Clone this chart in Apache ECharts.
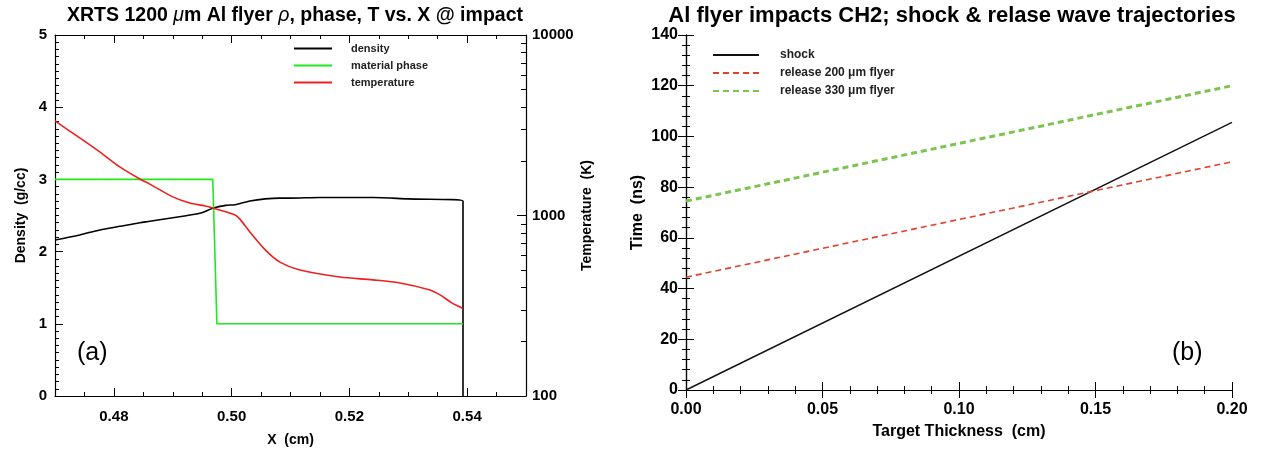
<!DOCTYPE html>
<html><head><meta charset="utf-8">
<script src="https://cdn.jsdelivr.net/npm/echarts@6/dist/echarts.min.js"></script>
<style>html,body{margin:0;padding:0;background:#fff}#c{width:1261px;height:454px}</style>
</head><body><div id="c"></div>
<script>
// ---- Panel (a) data ----
const densX = [0.47, 0.4742, 0.4776, 0.4810, 0.4844, 0.4861, 0.4917, 0.4946, 0.4968, 0.4990, 0.5006, 0.5031, 0.5057, 0.5082, 0.5099, 0.5150, 0.5201, 0.5240, 0.5300, 0.5393, 0.5393];
const densY = [2.16, 2.23, 2.30, 2.35, 2.40, 2.42, 2.49, 2.53, 2.60, 2.64, 2.65, 2.70, 2.73, 2.74, 2.74, 2.75, 2.75, 2.75, 2.73, 2.70, 0.0];
const phaseX = [0.47, 0.4968, 0.4975, 0.5393];
const phaseY = [3, 3, 1, 1];
const tempX = [0.47, 0.4742, 0.4776, 0.4810, 0.4844, 0.4861, 0.4900, 0.4929, 0.4955, 0.4968, 0.5006, 0.5014, 0.5031, 0.5057, 0.5082, 0.5116, 0.5184, 0.5240, 0.5286, 0.5337, 0.5354, 0.5374, 0.5388, 0.5393];
const tempY = [3340, 2690, 2250, 1858, 1593, 1493, 1268, 1172, 1130, 1101, 1007, 955, 811, 645, 552, 499, 456, 440, 423, 387, 363, 328, 311, 305];
const xTicksA = [0.48, 0.50, 0.52, 0.54];
const tempMinorTicks = [200, 300, 400, 500, 600, 700, 800, 900, 2000, 3000, 4000, 5000, 6000, 7000, 8000, 9000];
// ---- Panel (b) data ----
const thick = [0.0, 0.2];
const shock = [0.0, 105.5];
const rel200 = [44.5, 90.0];
const rel330 = [74.5, 120.0];

const zip = (xs, ys) => xs.map((x, i) => [x, ys[i]]);
const F = 'Liberation Sans, Arial, Helvetica, sans-serif';
const lblA = {fontFamily: F, fontWeight: 'bold', fontSize: 15, color: '#000'};
const lblB = {fontFamily: F, fontWeight: 'bold', fontSize: 16, color: '#000'};
const nmA = {fontFamily: F, fontWeight: 'bold', fontSize: 14, color: '#000'};
const nmB = {fontFamily: F, fontWeight: 'bold', fontSize: 16, color: '#000'};
const line = {show: true, lineStyle: {color: '#000', width: 1.2}};

const chart = echarts.init(document.getElementById('c'), null, {renderer: 'canvas'});
chart.setOption({
  animation: false,
  backgroundColor: '#fff',
  title: [
    {text: 'XRTS 1200 {i|μ}m Al flyer {i|ρ}, phase, T vs. X @ impact', left: 290, textAlign: 'center', top: 1,
     textStyle: {fontFamily: F, fontWeight: 'bold', fontSize: 19.5, color: '#000',
       rich: {i: {fontFamily: F, fontStyle: 'italic', fontWeight: 'normal', fontSize: 19.5, color: '#000'}}}},
    {text: 'Al flyer impacts CH2; shock & relase wave trajectories', left: 947, textAlign: 'center', top: 0,
     textStyle: {fontFamily: F, fontWeight: 'bold', fontSize: 22, color: '#000'}}
  ],
  legend: [
    {orient: 'vertical', left: 288, top: 38, itemWidth: 38, itemHeight: 10, itemGap: 6,
     itemStyle: {opacity: 0},
     data: ['density', 'material phase', 'temperature'],
     textStyle: {fontFamily: F, fontSize: 11, fontWeight: 'bold', color: '#222', padding: [0, 0, 0, 14]}},
    {orient: 'vertical', left: 707, top: 44, itemWidth: 46, itemHeight: 10, itemGap: 6,
     itemStyle: {opacity: 0},
     data: ['shock', 'release 200 μm flyer', 'release 330 μm flyer'],
     textStyle: {fontFamily: F, fontSize: 12, fontWeight: 'bold', color: '#222', padding: [0, 0, 0, 16]}}
  ],
  grid: [
    {left: 55, right: 735, top: 35, bottom: 58},
    {left: 686, right: 29, top: 35, bottom: 64}
  ],
  xAxis: [
    {gridIndex: 0, type: 'value', position: 'bottom', min: 0.47, max: 0.55,
     axisLine: line, splitLine: {show: false},
     axisTick: {show: true, inside: true, length: 8, customValues: xTicksA, lineStyle: {color: '#000'}},
     axisLabel: {customValues: xTicksA, margin: 13, formatter: v => v.toFixed(2), ...lblA},
     name: 'X  (cm)', nameLocation: 'middle', nameGap: 37, nameTextStyle: nmA},
    {gridIndex: 0, type: 'value', position: 'bottom', min: 0.47, max: 0.55, interval: 0.005,
     axisLine: {show: false}, splitLine: {show: false}, axisLabel: {show: false},
     axisTick: {show: true, inside: true, length: 4, lineStyle: {color: '#000'}}},
    {gridIndex: 0, type: 'value', position: 'top', min: 0.47, max: 0.55,
     axisLine: line, splitLine: {show: false}, axisLabel: {show: false},
     axisTick: {show: true, inside: true, length: 8, customValues: xTicksA, lineStyle: {color: '#000'}}},
    {gridIndex: 0, type: 'value', position: 'top', min: 0.47, max: 0.55, interval: 0.005,
     axisLine: {show: false}, splitLine: {show: false}, axisLabel: {show: false},
     axisTick: {show: true, inside: true, length: 4, lineStyle: {color: '#000'}}},
    {gridIndex: 1, type: 'value', position: 'bottom', min: 0, max: 0.2, interval: 0.05,
     axisLine: line, splitLine: {show: false},
     axisTick: {show: true, inside: true, length: 8, lineStyle: {color: '#000'}},
     minorTick: {show: true, splitNumber: 5, length: 4, lineStyle: {color: '#000'}},
     axisLabel: {margin: 12, formatter: v => v.toFixed(2), ...lblB},
     name: 'Target Thickness  (cm)', nameLocation: 'middle', nameGap: 34, nameTextStyle: nmB},
    {gridIndex: 1, type: 'value', position: 'top', min: 0, max: 0.2, interval: 0.05,
     axisLine: line, splitLine: {show: false}, axisLabel: {show: false},
     axisTick: {show: true, inside: true, length: 8, lineStyle: {color: '#000'}},
     minorTick: {show: true, splitNumber: 5, length: 4, lineStyle: {color: '#000'}}}
  ],
  yAxis: [
    {gridIndex: 0, type: 'value', position: 'left', min: 0, max: 5, interval: 1,
     axisLine: line, splitLine: {show: false},
     axisTick: {show: true, inside: true, length: 8, lineStyle: {color: '#000'}},
     minorTick: {show: true, splitNumber: 10, length: 4, lineStyle: {color: '#000'}},
     axisLabel: {margin: 8, ...lblA},
     name: 'Density  (g/cc)', nameLocation: 'middle', nameGap: 27, nameRotate: 90, nameTextStyle: nmA},
    {gridIndex: 0, type: 'log', logBase: 10, position: 'right', min: 100, max: 10000, interval: 1,
     axisLine: line, splitLine: {show: false},
     axisTick: {show: true, inside: true, length: 9, lineStyle: {color: '#000'}},
     axisLabel: {margin: 6, formatter: v => String(Math.round(v)), ...lblA},
     name: 'Temperature  (K)', nameLocation: 'middle', nameGap: 54, nameRotate: 90, nameTextStyle: nmA},
    {gridIndex: 0, type: 'value', position: 'right', min: 2, max: 4,
     axisLine: {show: false}, splitLine: {show: false}, axisLabel: {show: false},
     axisTick: {show: true, inside: true, length: 5, customValues: tempMinorTicks.map(v => Math.log10(v)), lineStyle: {color: '#000'}}},
    {gridIndex: 1, type: 'value', position: 'left', min: 0, max: 140, interval: 20,
     axisLine: line, splitLine: {show: false},
     axisTick: {show: true, inside: true, length: 8, lineStyle: {color: '#000'}},
     minorTick: {show: true, splitNumber: 5, length: 4, lineStyle: {color: '#000'}},
     axisLabel: {margin: 8, ...lblB},
     name: 'Time  (ns)', nameLocation: 'middle', nameGap: 40, nameRotate: 90, nameTextStyle: nmB},
    {gridIndex: 1, type: 'value', position: 'right', min: 0, max: 140, interval: 20,
     axisLine: line, splitLine: {show: false}, axisLabel: {show: false},
     axisTick: {show: true, inside: true, length: 8, lineStyle: {color: '#000'}},
     minorTick: {show: true, splitNumber: 5, length: 4, lineStyle: {color: '#000'}}}
  ],
  graphic: [
    {type: 'text', left: 77, top: 341, style: {text: '(a)', font: '25px ' + F, fill: '#000'}},
    {type: 'text', left: 1172, top: 341, style: {text: '(b)', font: '25px ' + F, fill: '#000'}}
  ],
  series: [
    {name: 'density', type: 'line', xAxisIndex: 0, yAxisIndex: 0, data: zip(densX, densY),
     symbol: 'none', smooth: 0.3, lineStyle: {color: '#000', width: 1.6}, itemStyle: {color: '#000'}},
    {name: 'material phase', type: 'line', xAxisIndex: 0, yAxisIndex: 0, data: zip(phaseX, phaseY),
     symbol: 'none', lineStyle: {color: '#1ee81e', width: 1.6}, itemStyle: {color: '#1ee81e'}},
    {name: 'temperature', type: 'line', xAxisIndex: 0, yAxisIndex: 1, data: zip(tempX, tempY),
     symbol: 'none', smooth: 0.3, lineStyle: {color: '#ee2020', width: 1.6}, itemStyle: {color: '#ee2020'}},
    {name: 'shock', type: 'line', xAxisIndex: 4, yAxisIndex: 3, data: zip(thick, shock),
     symbol: 'none', lineStyle: {color: '#111', width: 1.4}, itemStyle: {color: '#111'}},
    {name: 'release 200 μm flyer', type: 'line', xAxisIndex: 4, yAxisIndex: 3, data: zip(thick, rel200),
     symbol: 'none', lineStyle: {color: '#e0402c', width: 1.6, type: [6, 4]}, itemStyle: {color: '#e0402c'}},
    {name: 'release 330 μm flyer', type: 'line', xAxisIndex: 4, yAxisIndex: 3, data: zip(thick, rel330),
     symbol: 'none', lineStyle: {color: '#7cc450', width: 3, type: [6, 4]}, itemStyle: {color: '#7cc450'}}
  ]
});
</script>
</body></html>
